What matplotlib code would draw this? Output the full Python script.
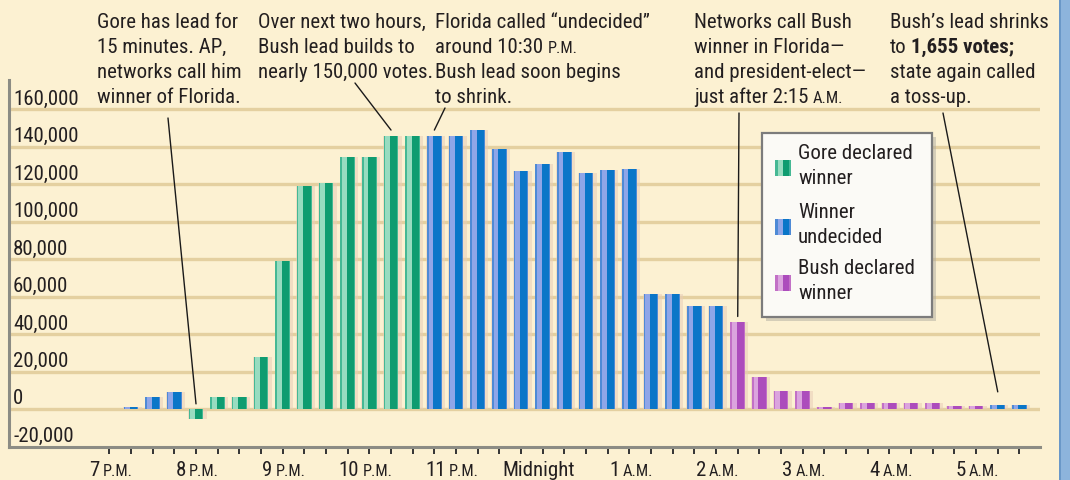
import matplotlib
matplotlib.use("Agg")
import matplotlib.pyplot as plt
from matplotlib import font_manager as fm
from matplotlib.transforms import IdentityTransform, offset_copy
from matplotlib.patches import Rectangle

# ---------------- data ----------------
slot_index = list(range(1, 43))          # 15-minute slots after 7 P.M.
lead_votes = [1500, 6500, 9500,
              -5000, 6800, 6800, 28000, 79000, 119000, 121000, 134500, 134500, 146000, 146000,
              146000, 146000, 149000, 139000, 127000, 131000, 137500, 126000, 127500, 128500,
              61600, 61600, 55400, 55400,
              46800, 17200, 10000, 10000, 1500, 3500, 3500, 3500, 3500, 3500, 2000, 2000,
              2400, 2400]
status = ['U'] * 3 + ['G'] * 11 + ['U'] * 14 + ['B'] * 12 + ['U'] * 2

hour_slots = [0, 4, 8, 12, 16, 20, 24, 28, 32, 36, 40]
hour_nums = ['7', '8', '9', '10', '11', 'Midnight', '1', '2', '3', '4', '5']
hour_suffix = ['P.M.'] * 5 + [''] + ['A.M.'] * 5

y_ticks = [-20000, 0, 20000, 40000, 60000, 80000, 100000, 120000, 140000, 160000]

legend_labels = [("Gore declared", "winner"), ("Winner", "undecided"), ("Bush declared", "winner")]
legend_keys = ['G', 'U', 'B']

# ---------------- style ----------------
TXT = '#231f20'
BG = '#fcf1d2'
GRID = '#e4d0a0'
COLORS = {
    'G': ('#45b894', '#98dcc0', '#0f9c70'),
    'U': ('#4e8ad6', '#8fa6e8', '#0a76c8'),
    'B': ('#c270c6', '#dba4de', '#ac4cbc'),
}

W, H = 1070, 480
fig = plt.figure(figsize=(W / 100, H / 100), dpi=100, facecolor=BG)
renderer = fig.canvas.get_renderer()
ID = IdentityTransform()

# pick the narrowest available sans font and size it to the reference text width
ttf = fm.fontManager.ttflist
cands = [('Liberation Sans Narrow', 'normal'), ('Roboto Condensed', 'normal'),
         ('DejaVu Sans', 'condensed'), ('Roboto', 'normal'), ('Lato', 'normal'),
         ('Liberation Sans', 'normal'), ('Noto Sans', 'normal')]
avail = []
for fam, st in cands:
    for f in ttf:
        if f.name == fam and (st == 'normal' or str(f.stretch) != 'normal'):
            avail.append((fam, st))
            break
best = None
for fam, st in avail:
    t = fig.text(0, 0, "Gore has lead for", fontsize=10, family=fam, fontstretch=st, transform=ID)
    w = t.get_window_extent(renderer).width
    t.remove()
    if best is None or w < best[2]:
        best = (fam, st, w)
FONT, STRETCH, w10 = best
FS = min(15.5, 10 * 141.0 / w10)
FK = dict(family=FONT, fontstretch=STRETCH, color=TXT)

ax = fig.add_axes([9 / W, 33 / H, (1040 - 9) / W, (447 - 80) / H])
ax.set_facecolor(BG)
ax.set_xlim(-4.63, 42.95)
ax.set_ylim(-20000, 175700)

# gridlines
for v in y_ticks[1:]:
    ax.axhline(v, color=GRID, lw=2.4, zorder=0.5)

# bars with cylinder-like stripes
for s, v, st in zip(slot_index, lead_votes, status):
    base, light, dark = COLORS[st]
    ax.bar(s + 0.06, v, width=0.86, color='#e8cdb8', alpha=0.55, zorder=1, linewidth=0)
    ax.bar(s, v, width=0.68, color=base, zorder=2, linewidth=0)
    ax.bar(s - 0.16, v, width=0.22, color=light, zorder=3, linewidth=0)
    ax.bar(s + 0.12, v, width=0.34, color=dark, zorder=3, linewidth=0)

# spines & ticks
for sp in ['top', 'right']:
    ax.spines[sp].set_visible(False)
for sp in ['left', 'bottom']:
    ax.spines[sp].set_color('#8c8c84')
    ax.spines[sp].set_linewidth(2.2)
ax.set_xticks(list(range(0, 43)))
ax.tick_params(axis='x', length=5, width=1.4, color='#333333', direction='out', labelbottom=False)
ax.set_yticks([])

# y labels (above their gridlines)
ytrans = offset_copy(ax.get_yaxis_transform(), fig=fig, x=4, y=5, units='dots')
for v in y_ticks:
    ax.text(0, v, f"{v:,}", transform=ytrans, ha='left', va='baseline',
            fontsize=FS, zorder=5, **FK)

fig.canvas.draw()


def width_of(t, size, weight='normal'):
    tt = fig.text(0, 0, t, fontsize=size, fontweight=weight, transform=ID, **FK)
    w = tt.get_window_extent(renderer).width
    tt.remove()
    return w


SPACE = width_of("a a", FS) - width_of("aa", FS)


def draw_line(x, y_img, segs):
    """segs: list of (text, size, weight); joined with spaces."""
    cx = x
    for t, s, w in segs:
        fig.text(cx, H - y_img, t, fontsize=s, fontweight=w, transform=ID,
                 ha='left', va='baseline', **FK)
        cx += width_of(t, s, w) + SPACE


# x tick labels
SM = FS * 0.78
for sl, num, suf in zip(hour_slots, hour_nums, hour_suffix):
    xd = ax.transData.transform((sl, 0))[0]
    if suf:
        fig.text(xd - 10, H - 476, num, fontsize=FS, transform=ID, ha='right', va='baseline', **FK)
        fig.text(xd - 7, H - 476, suf, fontsize=SM, transform=ID, ha='left', va='baseline', **FK)
    else:
        fig.text(xd - 4, H - 476, num, fontsize=FS, transform=ID, ha='center', va='baseline', **FK)

# annotations
N = (FS, 'normal')
notes = [
    (97, [[("Gore has lead for",) + N], [("15 minutes. AP,",) + N],
          [("networks call him",) + N], [("winner of Florida.",) + N]]),
    (258, [[("Over next two hours,",) + N], [("Bush lead builds to",) + N],
           [("nearly 150,000 votes.",) + N]]),
    (435, [[("Florida called \u201cundecided\u201d",) + N],
           [("around 10:30",) + N, ("P.M.", SM, 'normal')],
           [("Bush lead soon begins",) + N], [("to shrink.",) + N]]),
    (694, [[("Networks call Bush",) + N], [("winner in Florida\u2014",) + N],
           [("and president-elect\u2014",) + N],
           [("just after 2:15",) + N, ("A.M.", SM, 'normal')]]),
    (890, [[("Bush\u2019s lead shrinks",) + N],
           [("to",) + N, ("1,655 votes;", FS, 'bold')],
           [("state again called",) + N], [("a toss-up.",) + N]]),
]
for x0, lines in notes:
    for k, segs in enumerate(lines):
        draw_line(x0, 28 + 25 * k, segs)

# leader lines: (text-end pixel, bar slot, offset above bar)
leaders = [((168, 118), 4, 3000), ((355, 83), 13, 3000), ((445, 108), 15, 3000),
           ((739, 113), 29, 2800), ((943, 113), 41, 7000)]
for (px, py), sl, off in leaders:
    v = lead_votes[slot_index.index(sl)]
    ax.annotate('', xy=(sl, max(v, 0) + off), xycoords='data',
                xytext=(px, H - py), textcoords='figure pixels',
                arrowprops=dict(arrowstyle='-', color='#1a1a1a', lw=1.0, shrinkA=0, shrinkB=0),
                annotation_clip=False, zorder=6)

# legend box (manual)
bx, by, bw, bh = 762, 133, 170, 184
fig.patches.append(Rectangle((bx + 4, H - by - bh - 4), bw, bh, transform=ID,
                             facecolor='#b0aca0', edgecolor='none', alpha=0.5, zorder=7))
fig.patches.append(Rectangle((bx, H - by - bh), bw, bh, transform=ID,
                             facecolor='#fbfaf6', edgecolor='#7c7c7c', lw=1.6, zorder=8))
for k, (key, (l1, l2)) in enumerate(zip(legend_keys, legend_labels)):
    base, light, dark = COLORS[key]
    cy = [168, 227, 283][k]
    fig.patches.append(Rectangle((775, H - cy - 8), 16, 16, transform=ID, facecolor=base,
                                 edgecolor='none', zorder=9))
    fig.patches.append(Rectangle((778, H - cy - 8), 5, 16, transform=ID, facecolor=light,
                                 edgecolor='none', zorder=10))
    fig.patches.append(Rectangle((783, H - cy - 8), 6, 16, transform=ID, facecolor=dark,
                                 edgecolor='none', zorder=10))
    yb = [159, 218, 274][k]
    for j, t in enumerate((l1, l2)):
        fig.text(798, H - (yb + 25 * j), t, fontsize=FS, transform=ID,
                 ha='left', va='baseline', zorder=11, **FK)

# right blue border
fig.patches.append(Rectangle((1060, 0), 10, H, transform=ID, facecolor='#8db4dc',
                             edgecolor='none'))
fig.patches.append(Rectangle((1059, 0), 2, H, transform=ID, facecolor='#6a98c8',
                             edgecolor='none'))

fig.savefig('out.png', dpi=100, facecolor=BG)
